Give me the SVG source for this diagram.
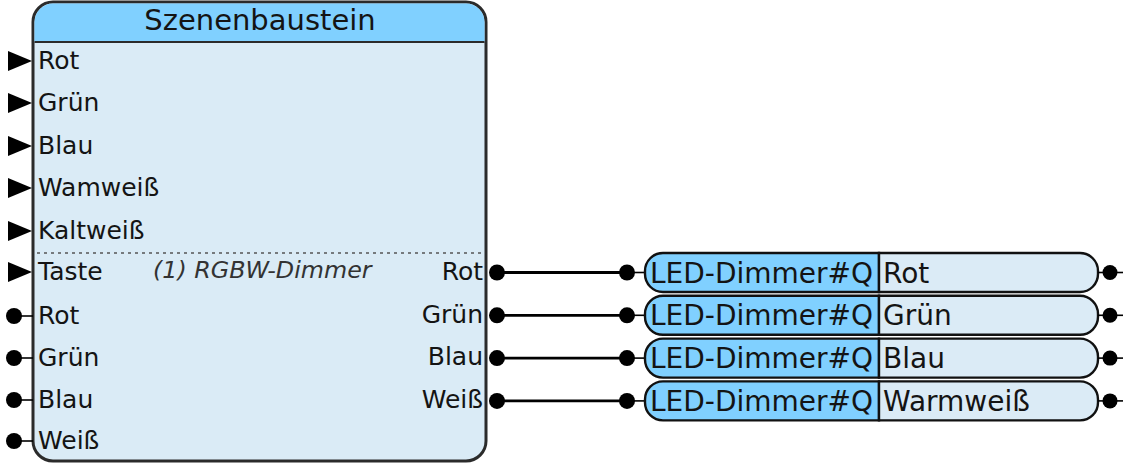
<svg xmlns="http://www.w3.org/2000/svg" width="1127" height="464" viewBox="0 0 1127 464">
<style>
text{font-family:"DejaVu Sans","Liberation Sans",sans-serif;fill:#141414}
.lbl{font-size:25px}
.ttl{font-size:29px}
.led{font-size:28px}
.it{font-size:23.8px;font-style:italic;fill:#333}
.dot{fill:#000}
.tri{fill:#000}
.wire{stroke:#000;stroke-width:2.8;fill:none}
.stub{stroke:#000;stroke-width:1.6;fill:none}
.boxL{fill:#80d0ff;stroke:#111;stroke-width:2.4}
.boxR{fill:#dbebf6;stroke:#111;stroke-width:2.4}
</style>
<defs>
<path id="tri" d="M-24,-10 L0,0 L-24,10 Z"/>
</defs>
<g id="szenenbaustein">
<rect x="33" y="2" width="453" height="459" rx="20" fill="#daebf6" stroke="#2b2b2b" stroke-width="3"/>
<path d="M34.5,42 V22 A18.5,18.5 0 0 1 53,3.5 H466 A18.5,18.5 0 0 1 484.5,22 V42 Z" fill="#80d0ff"/>
<line x1="34.5" y1="42" x2="484.5" y2="42" stroke="#2b2b2b" stroke-width="2"/>
<text class="ttl" x="260" y="30" text-anchor="middle">Szenenbaustein</text>
<line x1="37" y1="253" x2="483" y2="253" stroke="#555" stroke-width="1.3" stroke-dasharray="3,4"/>
<use href="#tri" x="32" y="61" class="tri"/>
<use href="#tri" x="32" y="103" class="tri"/>
<use href="#tri" x="32" y="146" class="tri"/>
<use href="#tri" x="32" y="188" class="tri"/>
<use href="#tri" x="32" y="231" class="tri"/>
<use href="#tri" x="32" y="272" class="tri"/>
<g>
<line class="stub" x1="14" y1="316" x2="33" y2="316"/><circle class="dot" cx="14" cy="316" r="8"/>
<line class="stub" x1="14" y1="358" x2="33" y2="358"/><circle class="dot" cx="14" cy="358" r="8"/>
<line class="stub" x1="14" y1="400" x2="33" y2="400"/><circle class="dot" cx="14" cy="400" r="8"/>
<line class="stub" x1="14" y1="441" x2="33" y2="441"/><circle class="dot" cx="14" cy="441" r="8"/>
</g>
<text class="lbl" x="38" y="69">Rot</text>
<text class="lbl" x="38" y="111">Grün</text>
<text class="lbl" x="38" y="154">Blau</text>
<text class="lbl" x="38" y="196">Wamweiß</text>
<text class="lbl" x="38" y="239">Kaltweiß</text>
<text class="lbl" x="38" y="280">Taste</text>
<text class="it" x="153" y="278">(1) RGBW-Dimmer</text>
<text class="lbl" x="38" y="324">Rot</text>
<text class="lbl" x="38" y="366">Grün</text>
<text class="lbl" x="38" y="408">Blau</text>
<text class="lbl" x="38" y="449">Weiß</text>
<text class="lbl" x="483" y="280" text-anchor="end">Rot</text>
<text class="lbl" x="483" y="323" text-anchor="end">Grün</text>
<text class="lbl" x="483" y="365" text-anchor="end">Blau</text>
<text class="lbl" x="483" y="408" text-anchor="end">Weiß</text>
<circle class="dot" cx="497" cy="272.5" r="8"/>
<circle class="dot" cx="497" cy="315.3" r="8"/>
<circle class="dot" cx="497" cy="358.1" r="8"/>
<circle class="dot" cx="497" cy="400.9" r="8"/>
</g>
<g id="connectors">
<line class="wire" x1="497" y1="272.5" x2="627" y2="272.5"/>
<line class="wire" x1="497" y1="315.3" x2="627" y2="315.3"/>
<line class="wire" x1="497" y1="358.1" x2="627" y2="358.1"/>
<line class="wire" x1="497" y1="400.9" x2="627" y2="400.9"/>
</g>
<g id="led-rot" transform="translate(0,253)">
<line class="stub" x1="627" y1="19.5" x2="646" y2="19.5"/><circle class="dot" cx="627" cy="19.5" r="8"/>
<path class="boxL" d="M879,0 H663 A18,18 0 0 0 645,18 V21 A18,18 0 0 0 663,39 H879 Z"/>
<path class="boxR" d="M879,0 H1080 A18,18 0 0 1 1098,18 V21 A18,18 0 0 1 1080,39 H879 Z"/>
<text class="led" x="650" y="29.5">LED-Dimmer#Q</text>
<text class="led" x="883" y="29.5">Rot</text>
<line class="stub" x1="1098" y1="19.5" x2="1123" y2="19.5"/><circle class="dot" cx="1110" cy="19.5" r="7.5"/>
</g>
<g id="led-gruen" transform="translate(0,295.8)">
<line class="stub" x1="627" y1="19.5" x2="646" y2="19.5"/><circle class="dot" cx="627" cy="19.5" r="8"/>
<path class="boxL" d="M879,0 H663 A18,18 0 0 0 645,18 V21 A18,18 0 0 0 663,39 H879 Z"/>
<path class="boxR" d="M879,0 H1080 A18,18 0 0 1 1098,18 V21 A18,18 0 0 1 1080,39 H879 Z"/>
<text class="led" x="650" y="29.5">LED-Dimmer#Q</text>
<text class="led" x="883" y="29.5">Grün</text>
<line class="stub" x1="1098" y1="19.5" x2="1123" y2="19.5"/><circle class="dot" cx="1110" cy="19.5" r="7.5"/>
</g>
<g id="led-blau" transform="translate(0,338.6)">
<line class="stub" x1="627" y1="19.5" x2="646" y2="19.5"/><circle class="dot" cx="627" cy="19.5" r="8"/>
<path class="boxL" d="M879,0 H663 A18,18 0 0 0 645,18 V21 A18,18 0 0 0 663,39 H879 Z"/>
<path class="boxR" d="M879,0 H1080 A18,18 0 0 1 1098,18 V21 A18,18 0 0 1 1080,39 H879 Z"/>
<text class="led" x="650" y="29.5">LED-Dimmer#Q</text>
<text class="led" x="883" y="29.5">Blau</text>
<line class="stub" x1="1098" y1="19.5" x2="1123" y2="19.5"/><circle class="dot" cx="1110" cy="19.5" r="7.5"/>
</g>
<g id="led-warmweiss" transform="translate(0,381.4)">
<line class="stub" x1="627" y1="19.5" x2="646" y2="19.5"/><circle class="dot" cx="627" cy="19.5" r="8"/>
<path class="boxL" d="M879,0 H663 A18,18 0 0 0 645,18 V21 A18,18 0 0 0 663,39 H879 Z"/>
<path class="boxR" d="M879,0 H1080 A18,18 0 0 1 1098,18 V21 A18,18 0 0 1 1080,39 H879 Z"/>
<text class="led" x="650" y="29.5">LED-Dimmer#Q</text>
<text class="led" x="883" y="29.5">Warmweiß</text>
<line class="stub" x1="1098" y1="19.5" x2="1123" y2="19.5"/><circle class="dot" cx="1110" cy="19.5" r="7.5"/>
</g>
</svg>
